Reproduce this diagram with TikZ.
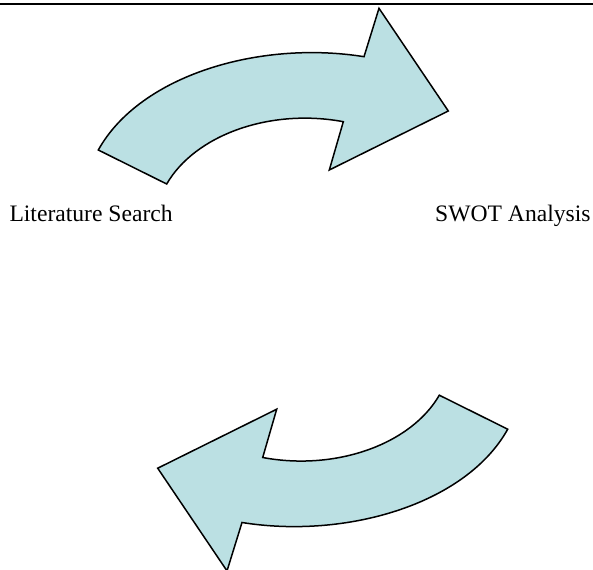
\documentclass[tikz,border=0pt]{standalone}
\usepackage{fontspec}
\setmainfont{Liberation Serif}
\definecolor{arrowfill}{RGB}{187,224,227}
\begin{document}
\begin{tikzpicture}[x=1pt,y=-1pt,
  curvedarrow/.style={fill=arrowfill,draw=black,line width=1.5pt,line join=miter},
  lbl/.style={font=\fontsize{23.6}{28}\selectfont,inner sep=0pt,anchor=base west},
  bigarrow/.pic={\draw[curvedarrow] (98.3,150) -- (166.7,184)
     .. controls (195,135) and (270,108) .. (343.3,121.7)
     -- (329.3,170) -- (448.3,111) -- (379,8.3) -- (364,56.7)
     .. controls (260,40) and (140,75) .. (98.3,150) -- cycle;}]
\useasboundingbox (0,0) rectangle (593,569);
\draw[line width=1.5pt] (0,4) -- (593,4);
\pic at (0,0) {bigarrow};
\pic[rotate=180] at (606,579.2) {bigarrow};
\node[lbl] (lit) at (9.3,221.5) {Literature Search};
\node[lbl] (swot) at (435,221.5) {SWOT Analysis};
\end{tikzpicture}
\end{document}
